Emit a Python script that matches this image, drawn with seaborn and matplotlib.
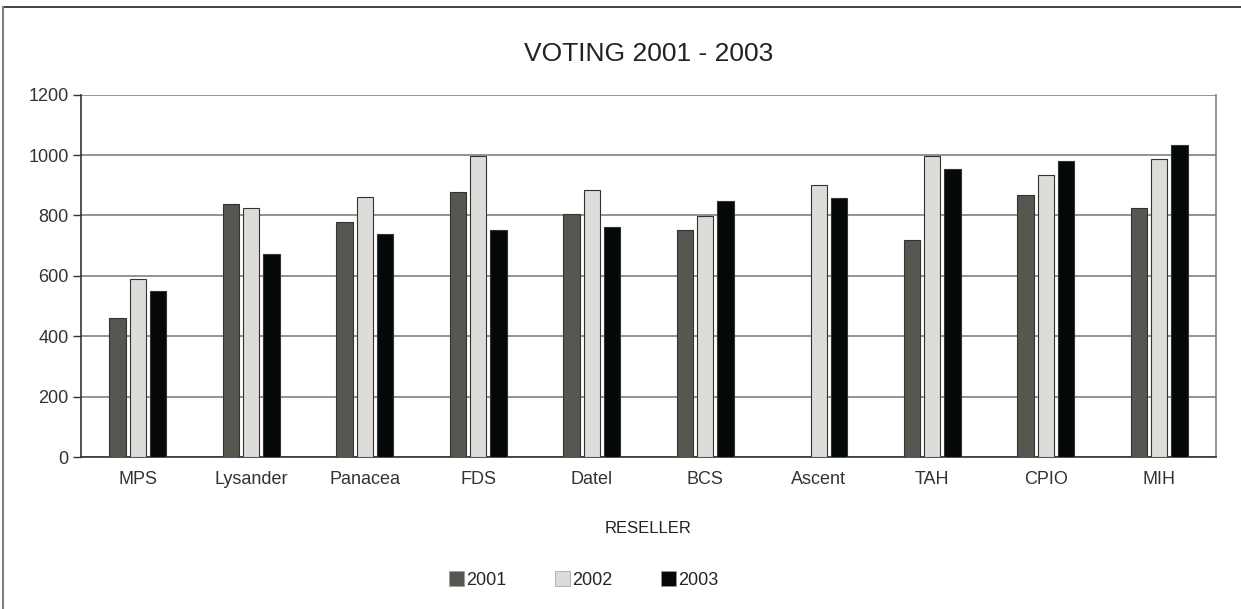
import numpy as np
import pandas as pd
import matplotlib
matplotlib.use("Agg")
import matplotlib.pyplot as plt
from matplotlib.lines import Line2D
import seaborn as sns

# Data
resellers = ["MPS", "Lysander", "Panacea", "FDS", "Datel", "BCS", "Ascent", "TAH", "CPIO", "MIH"]
years = ["2001", "2002", "2003"]
votes_2001 = [460, 839, 777, 879, 804, 751, np.nan, 720, 868, 826]
votes_2002 = [589, 824, 862, 998, 884, 799, 900, 996, 935, 986]
votes_2003 = [549, 673, 738, 751, 761, 848, 857, 954, 982, 1033]
colors = ["#555750", "#dddcd8", "#050808"]

df = pd.DataFrame({"Reseller": resellers, "2001": votes_2001, "2002": votes_2002, "2003": votes_2003})
long = df.melt(id_vars="Reseller", var_name="Year", value_name="Votes")

sns.set_style("white")
plt.rcParams["font.family"] = ["Liberation Sans", "DejaVu Sans"]

fig = plt.figure(figsize=(12.41, 6.09), dpi=100)
ax = fig.add_axes([81 / 1241, 1 - 457 / 609, (1216 - 81) / 1241, (457 - 94.7) / 609])

sns.barplot(data=long, x="Reseller", y="Votes", hue="Year", hue_order=years,
            palette=colors, width=0.53, gap=0.18, edgecolor="#333333", linewidth=0.8,
            saturation=1, ax=ax, zorder=3)

ax.set_ylim(0, 1200)
ax.set_xlim(-0.5, len(resellers) - 0.5)
ax.set_yticks(range(0, 1201, 200))
ax.yaxis.grid(True, color="#808080", linewidth=1.2, zorder=0)
ax.set_axisbelow(True)

# ticks on group boundaries
ax.set_xticks(np.arange(-0.5, len(resellers)), minor=True)
ax.tick_params(axis="x", which="major", length=0, pad=10, labelsize=13, labelcolor="#333333")
ax.tick_params(axis="x", which="minor", length=6, width=1, color="#333333")
ax.tick_params(axis="y", which="major", left=True, length=6, width=1, color="#333333",
               labelsize=13, labelcolor="#333333", pad=3)

for side in ["left", "bottom"]:
    ax.spines[side].set_color("#333333")
    ax.spines[side].set_linewidth(1.2)
ax.spines["top"].set_visible(False)
ax.spines["right"].set_color("#808080")
ax.spines["right"].set_linewidth(1.2)

ax.set_ylabel("")
ax.set_xlabel("RESELLER", fontsize=12, color="#222222", labelpad=24)
ax.set_title("VOTING 2001 - 2003", fontsize=19, color="#222222", pad=24)

ax.legend_.remove()
handles = [plt.Rectangle((0, 0), 1, 1, facecolor=c, edgecolor="#999999", linewidth=0.5) for c in colors]
fig.legend(handles, years, loc="center", bbox_to_anchor=(584 / 1241, 1 - 580 / 609), ncol=3, frameon=False,
           fontsize=13, handlelength=0.8, handleheight=0.85, handletextpad=0.15, columnspacing=2.7)

# outer frame: top and left edges only
fig.add_artist(Line2D([3 / 1241, 1], [1 - 7 / 609, 1 - 7 / 609], color="#222222", linewidth=1.2,
                      transform=fig.transFigure))
fig.add_artist(Line2D([3 / 1241, 3 / 1241], [0, 1 - 7 / 609], color="#808080", linewidth=1.5,
                      transform=fig.transFigure))

fig.savefig("out.png", dpi=100)
